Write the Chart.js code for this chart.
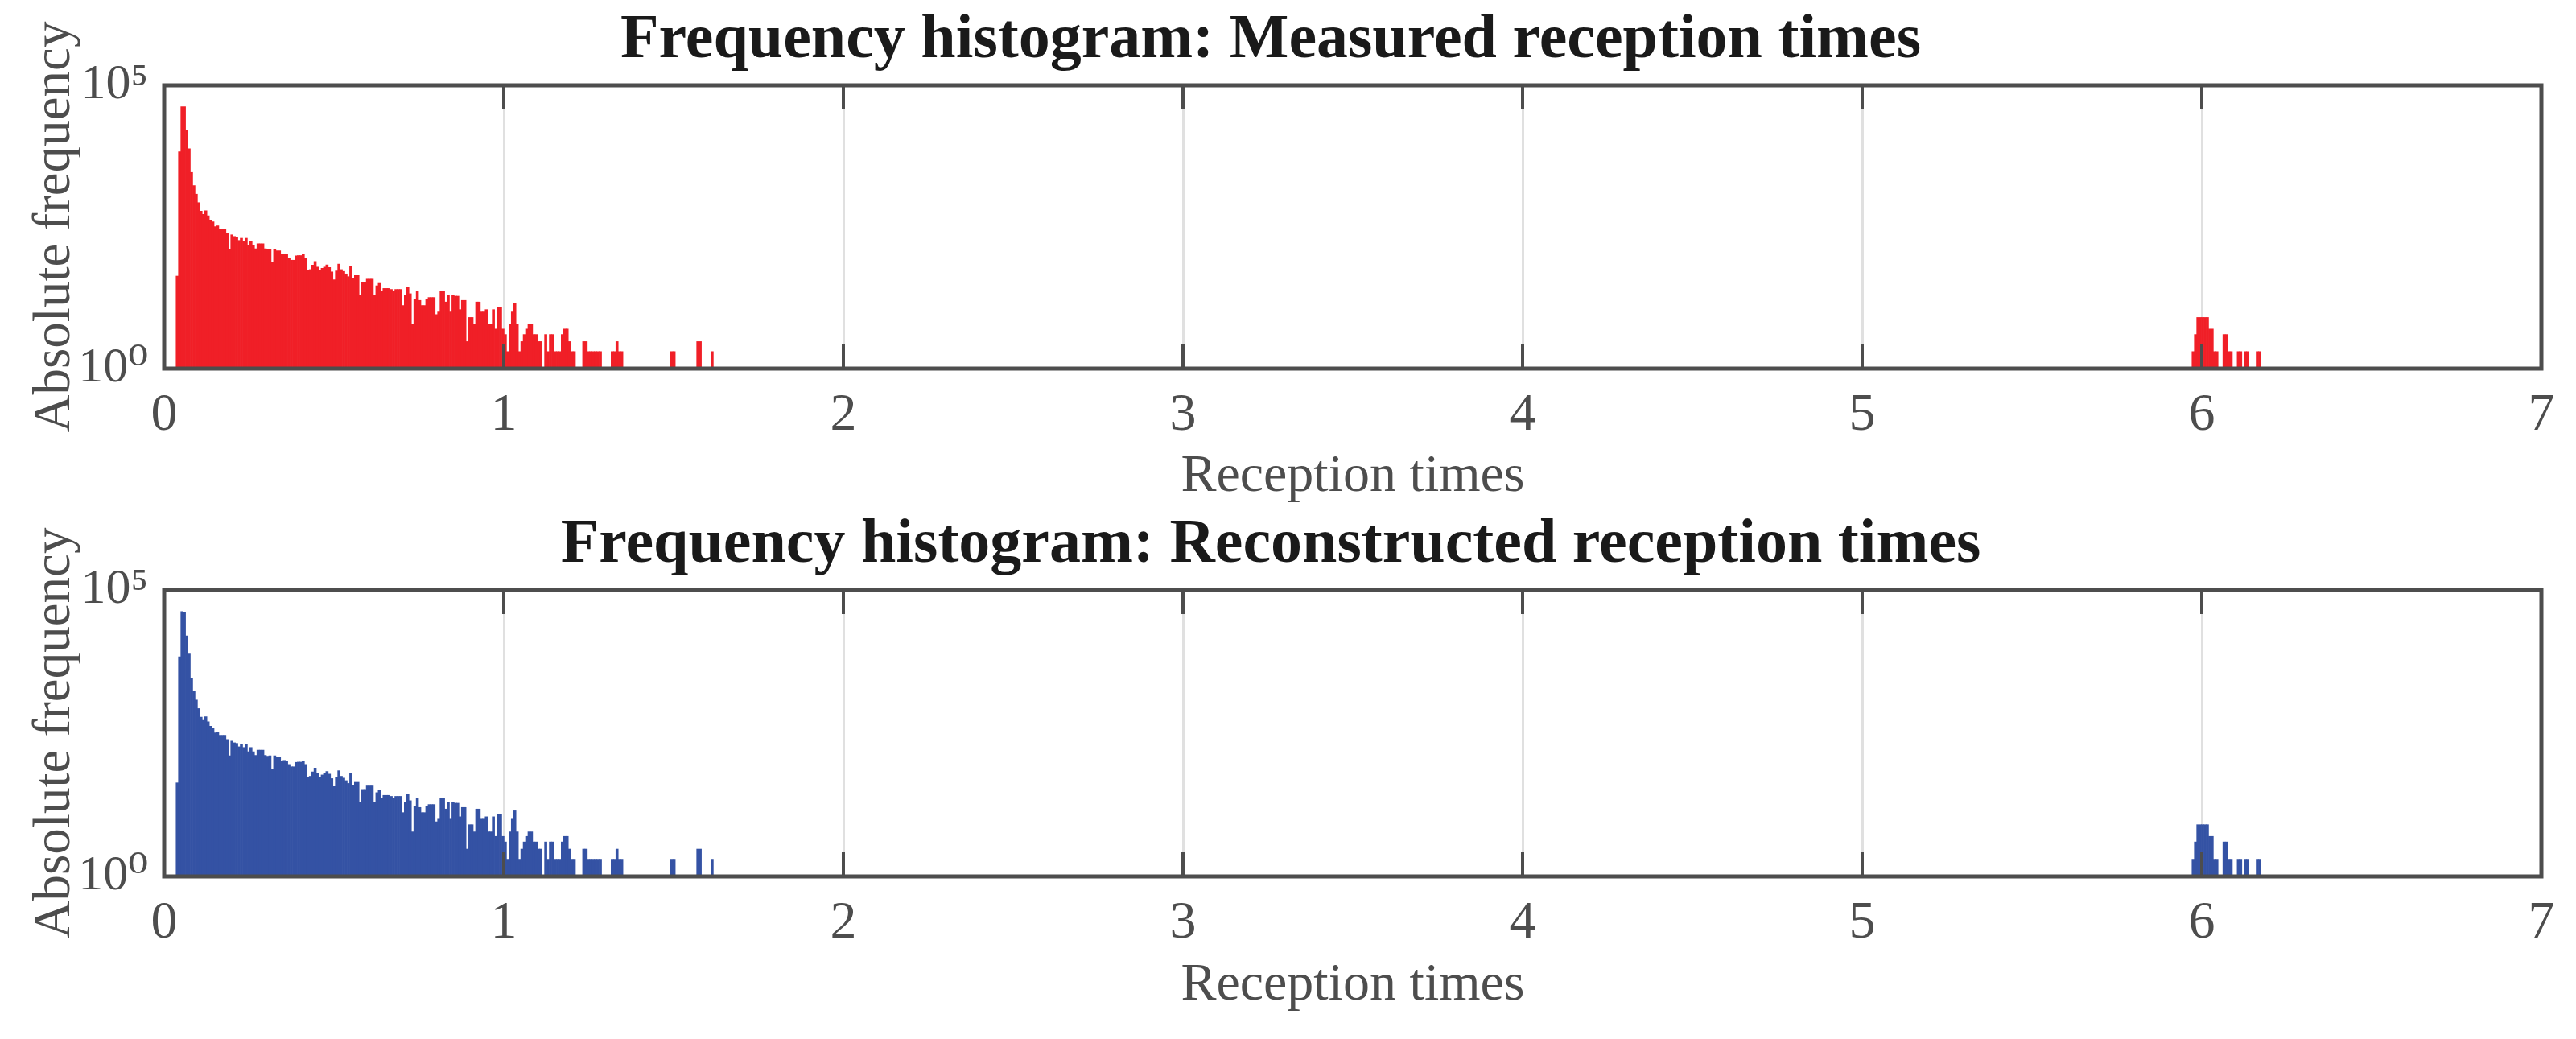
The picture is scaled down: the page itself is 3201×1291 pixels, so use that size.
<!DOCTYPE html>
<html><head><meta charset="utf-8">
<script src="https://cdn.jsdelivr.net/npm/chart.js@4.4.1/dist/chart.umd.min.js"></script>
<style>body{margin:0;background:#fff;width:3201px;height:1291px;overflow:hidden}
#c1{position:absolute;left:0;top:0}#c2{position:absolute;left:0;top:627px}</style>
</head><body>
<canvas id="c1" width="3201" height="627"></canvas>
<canvas id="c2" width="3201" height="664"></canvas>
<script>
const binWidth = 0.007;
const firstBin = 5;
const measuredCounts = [
43,6700,42000,42000,15800,7600,2900,1700,1200,850,
600,530,610,500,420,390,320,330,290,290,
290,245,128,230,215,210,183,200,178,200,
150,178,150,130,160,160,160,130,125,128,
75,128,120,120,103,106,103,90,82,82,
98,99,99,103,90,54,56,67,78,62,
54,59,62,68,61,51,37,53,70,56,
52,47,42,64,39,44,44,20,33,33,
38,38,38,20,29,32,23,26,26,26,
25,23,25,25,25,13,20,27,21,6,
17,23,16,13,13,17,18,18,18,9,
10,23,23,15,20,10,20,19,19,11,
16,16,3,8,8,6,15,15,10,10,
11,6,6,11,5,12,12,5,4,2,
6,10,14,6,2,3,4,5,6,6,
4,4,3,3,1,4,2,4,4,2,
2,2,4,5,5,3,2,2,1,1,
0,3,3,2,2,2,2,2,2,1,
1,1,1,2,2,3,2,2,1,0,
0,0,0,0,0,0,0,0,0,0,
0,1,0,0,0,0,1,1,2,2,
0,0,0,1,1,1,1,1,1,3,
3,1,1,1,1,2,1,1,1,1,
1,1,0,0,0,1,0,0,0,0,
0,0,0,0,0,0,0,0,0,0,
1];
const reconstructedCounts = [
43,6800,42000,41000,15800,7600,2900,1700,1200,850,
600,530,610,500,420,390,320,330,290,290,
290,245,128,230,215,210,183,200,178,200,
150,178,150,130,160,160,160,130,125,128,
75,128,120,120,103,106,103,90,82,82,
98,99,99,103,90,54,56,67,78,62,
54,59,62,68,61,51,37,53,70,56,
52,47,42,64,39,44,44,20,33,33,
38,38,38,20,29,32,23,26,26,26,
25,23,25,25,25,13,20,27,21,6,
17,23,16,13,13,17,18,18,18,9,
10,23,23,15,20,10,20,19,19,11,
16,16,3,8,8,6,15,15,10,10,
11,6,6,11,5,12,12,5,4,2,
6,10,14,6,2,3,4,5,6,6,
4,4,3,3,1,4,2,4,4,2,
2,2,4,5,5,3,2,2,1,1,
0,3,3,2,2,2,2,2,2,1,
1,1,1,2,2,3,2,2,1,0,
0,0,0,0,0,0,0,0,0,0,
0,1,0,0,0,0,1,1,2,2,
0,0,0,1,1,1,1,1,1,3,
3,1,1,1,1,2,1,1,1,1];
const clusterFirstBin = 853;
const measuredCluster = [2,4,8,8,8,8,8,5,5,2,2,1,1,4,4,2,2,1,1,2,2,1,2,2,1,1,1,2,2];
const reconstructedCluster = [2,4,8,8,8,8,8,5,5,2,2,1,1,4,4,2,2,1,1,2,2,1,2,2,1,1,1,2,2];
const xTicks = [0,1,2,3,4,5,6,7];
const yTickLabels = {1:'10\u2070', 100000:'10\u2075'};
const titles = ['Frequency histogram: Measured reception times','Frequency histogram: Reconstructed reception times'];

function toPoints(start, counts){
  const out=[];
  counts.forEach((c,i)=>{ if(c>0) out.push({x:(start+i+0.5)*binWidth, y:c}); });
  return out;
}
const serif = "'Liberation Serif','DejaVu Serif',serif";
const frame = {
  id:'frame',
  afterDatasetsDraw(chart){
    const {ctx, chartArea:a, scales:{x}} = chart;
    ctx.save();
    ctx.strokeStyle='#4d4d4d'; ctx.lineWidth=4;
    xTicks.forEach(v=>{
      const px=x.getPixelForValue(v);
      ctx.beginPath(); ctx.moveTo(px,a.top); ctx.lineTo(px,a.top+30); ctx.stroke();
      ctx.beginPath(); ctx.moveTo(px,a.bottom); ctx.lineTo(px,a.bottom-30); ctx.stroke();
    });
    ctx.lineWidth=5;
    ctx.strokeRect(a.left,a.top,a.right-a.left,a.bottom-a.top);
    ctx.restore();
  }
};
function make(id, title, pts, color, xh, xpadb){
  new Chart(document.getElementById(id), {
    type:'bar',
    data:{datasets:[{data:pts, backgroundColor:color, borderWidth:0, barPercentage:1, categoryPercentage:1}]},
    options:{
      responsive:false, animation:false,
      layout:{padding:{left:0,right:43,top:0,bottom:0}},
      plugins:{legend:{display:false}, tooltip:{enabled:false},
        title:{display:true, text:title, color:'#1a1a1a', font:{family:serif,size:78,weight:'bold',lineHeight:1}, padding:{top:12,bottom:16}}},
      scales:{
        x:{type:'linear', min:0, max:7, offset:false, afterBuildTicks:s=>{s.ticks=xTicks.map(v=>({value:v}));},
          afterFit:s=>{s.height=xh;},
          grid:{color:'#e0e0e0', lineWidth:3, drawTicks:false, offset:false},
          border:{display:false},
          ticks:{color:'#4d4d4d', font:{family:serif,size:66}, padding:19, maxRotation:0},
          title:{display:true, text:'Reception times', color:'#4d4d4d', font:{family:serif,size:66,lineHeight:1}, padding:{top:0,bottom:xpadb}}},
        y:{type:'logarithmic', min:1, max:100000,
          afterBuildTicks:s=>{s.ticks=[{value:1},{value:100000}];},
          afterFit:s=>{s.width=204;},
          grid:{display:false}, border:{display:false},
          ticks:{color:'#4d4d4d', font:{family:serif,size:62}, padding:12, callback:v=>yTickLabels[v]||''},
          title:{display:true, text:'Absolute frequency', color:'#4d4d4d', font:{family:serif,size:65}, padding:{top:30,bottom:0}}}
      }
    },
    plugins:[frame]
  });
}
make('c1', titles[0], toPoints(firstBin,measuredCounts).concat(toPoints(clusterFirstBin,measuredCluster)), '#f01f27', 169, 1);
make('c2', titles[1], toPoints(firstBin,reconstructedCounts).concat(toPoints(clusterFirstBin,reconstructedCluster)), '#3452a4', 202, 33);
</script></body></html>
